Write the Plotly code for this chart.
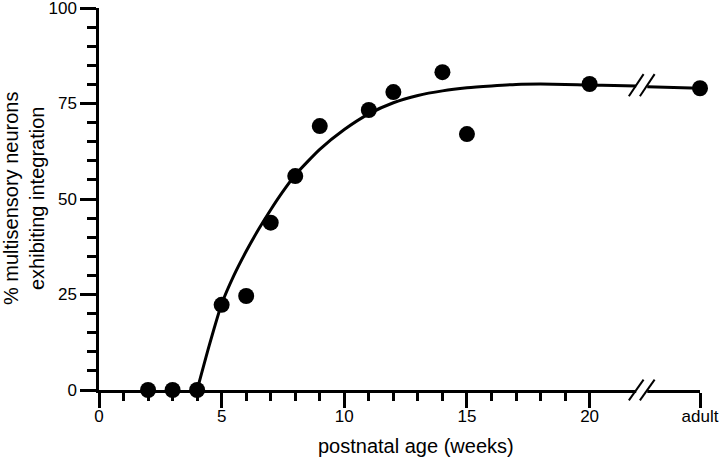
import plotly.graph_objects as go

# ---- data ----
ADULT_X = 24.5  # position used for the "adult" category on the x axis
age_weeks = [2, 3, 4, 5, 6, 7, 8, 9, 11, 12, 14, 15, 20, ADULT_X]
pct_integration = [0, 0, 0, 22.3, 24.6, 43.8, 56.0, 69.1, 73.3, 78.0, 83.2, 67.0, 80.1, 79.0]

# fitted curve, split at the axis break
fit_x_a = [4, 4.5, 5, 5.5, 6, 6.5, 7, 7.5, 8, 9, 10, 11, 12, 13, 14, 15, 16, 17, 18, 19, 20, 21, 21.9]
fit_y_a = [0, 11.8, 22.5, 30, 36.3, 42, 47.2, 52, 56.3, 63, 68.2, 72.3, 75.2, 77.1, 78.3, 79.1, 79.6, 80, 80.1, 80, 79.8, 79.7, 79.6]
fit_x_b = [22.35, ADULT_X]
fit_y_b = [79.4, 79.0]

x_tickvals = [0, 5, 10, 15, 20, ADULT_X]
x_ticktext = ["0", "5", "10", "15", "20", "adult"]
x_minor = [1, 2, 3, 4, 6, 7, 8, 9, 11, 12, 13, 14, 16, 17, 18, 19]
y_tickvals = [0, 25, 50, 75, 100]
y_minor = [5, 10, 15, 20, 30, 35, 40, 45, 55, 60, 65, 70, 80, 85, 90, 95]

# break positions (x data units)
brk_s1 = (21.6, 22.2)
brk_s2 = (22.05, 22.65)
brk_gap = (21.9, 22.35)
curve_brk_y = 79.8

FONT = "Liberation Sans, Arial, Helvetica, sans-serif"

fig = go.Figure()
line_style = dict(color="black", width=3)
fig.add_trace(go.Scatter(x=fit_x_a, y=fit_y_a, mode="lines", line=dict(shape="spline", smoothing=0.6, **line_style),
                         hoverinfo="skip", showlegend=False, cliponaxis=False))
fig.add_trace(go.Scatter(x=fit_x_b, y=fit_y_b, mode="lines", line=line_style,
                         hoverinfo="skip", showlegend=False, cliponaxis=False))
fig.add_trace(go.Scatter(x=age_weeks, y=pct_integration, mode="markers",
                         marker=dict(color="black", size=16), showlegend=False, cliponaxis=False))

shapes = []
# axis break: white gap + two slashes
shapes.append(dict(type="rect", xref="x", yref="paper", x0=brk_gap[0], x1=brk_gap[1], y0=-0.012, y1=0.012,
                   fillcolor="white", line=dict(width=0), layer="above"))
for s in (brk_s1, brk_s2):
    shapes.append(dict(type="line", xref="x", yref="paper", x0=s[0], x1=s[1], y0=-0.027, y1=0.027,
                       line=dict(color="black", width=2), layer="above"))
    shapes.append(dict(type="line", xref="x", yref="y", x0=s[0], x1=s[1], y0=curve_brk_y - 2.9, y1=curve_brk_y + 2.9,
                       line=dict(color="black", width=2), layer="above"))

fig.update_layout(
    width=720, height=462,
    margin=dict(l=99, r=20, t=8, b=72),
    paper_bgcolor="white", plot_bgcolor="white",
    font=dict(family=FONT, color="black", size=17),
    shapes=shapes,
    xaxis=dict(range=[0, ADULT_X], showgrid=False, zeroline=False, showline=True, linecolor="black", linewidth=2.5,
               tickmode="array", tickvals=x_tickvals, ticktext=x_ticktext, ticks="outside", ticklen=15,
               tickwidth=2.5, tickcolor="black", tickfont=dict(size=17), ticklabelstandoff=-6,
               ticklabeloverflow="allow", automargin=False,
               minor=dict(tickvals=x_minor, ticks="outside", ticklen=8, tickwidth=2.5, tickcolor="black", showgrid=False)),
    yaxis=dict(range=[0, 100], showgrid=False, zeroline=False, showline=True, linecolor="black", linewidth=2.5,
               tickmode="array", tickvals=y_tickvals, ticks="outside", ticklen=16,
               tickwidth=2.5, tickcolor="black", tickfont=dict(size=17), ticklabeloverflow="allow", automargin=False,
               minor=dict(tickvals=y_minor, ticks="outside", ticklen=9, tickwidth=2.5, tickcolor="black", showgrid=False)),
    annotations=[
        dict(text="postnatal age (weeks)", xref="paper", yref="paper", x=0.5, y=0, xshift=16, yshift=-56,
             showarrow=False, xanchor="center", yanchor="middle", font=dict(size=20)),
        dict(text="% multisensory neurons<br>exhibiting integration", xref="paper", yref="paper", x=0, y=0.5,
             xshift=-75, showarrow=False, xanchor="center", yanchor="middle", textangle=-90,
             font=dict(size=20)),
    ],
)

fig.write_html("out.html", config={"displayModeBar": False},
               post_script="document.body.style.margin='0';document.body.style.padding='0';")
